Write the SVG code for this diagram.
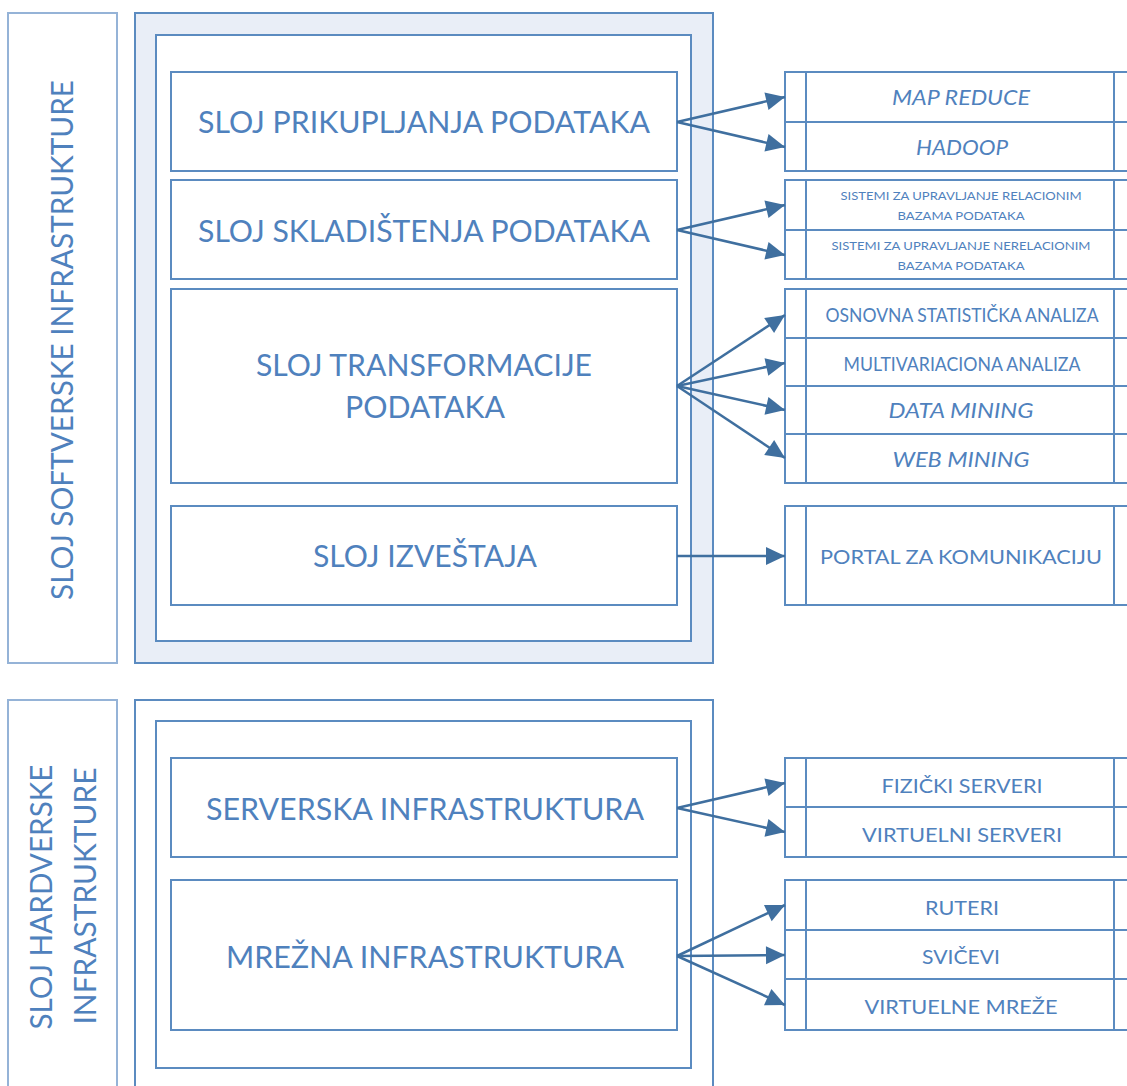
<svg xmlns="http://www.w3.org/2000/svg" width="1127" height="1086" viewBox="0 0 1127 1086">
  <style>
    .side { fill: #ffffff; stroke: #95B3D7; stroke-width: 2; }
    .frame { stroke: #5B8BC0; stroke-width: 2; }
    .box { fill: #ffffff; stroke: #5B8BC0; stroke-width: 2; }
    .cell { fill: #ffffff; stroke: #5B8BC0; stroke-width: 2; }
    .div { stroke: #5B8BC0; stroke-width: 2; }
    text { font-family: Lato, "Open Sans", "Liberation Sans", sans-serif; fill: #4F81BD; text-anchor: middle; }
    .big { font-size: 30px; }
    .med { font-size: 19px; }
    .it { font-style: italic; font-size: 21px; }
    .sm { font-size: 12px; }
    .conn line { stroke: #3F6F9F; stroke-width: 2.5; marker-end: url(#head); }
  </style>
  <defs>
    <marker id="head" markerUnits="userSpaceOnUse" markerWidth="22" markerHeight="20" refX="20" refY="10" orient="auto" overflow="visible">
      <path d="M1,1 L20,10 L1,19 Z" fill="#3F6F9F"/>
    </marker>
  </defs>

  <rect width="1127" height="1086" fill="#ffffff"/>

  <!-- software layer -->
  <g id="software-label">
    <rect class="side" x="8" y="13" width="109" height="650"/>
    <text class="big" transform="translate(73,340) rotate(-90)" textLength="520" lengthAdjust="spacingAndGlyphs">SLOJ SOFTVERSKE INFRASTRUKTURE</text>
  </g>
  <g id="software-frame">
    <rect class="frame" x="135" y="13" width="578" height="650" fill="#E9EEF7"/>
    <rect class="frame" x="156" y="35" width="535" height="606" fill="#ffffff"/>
  </g>

  <g id="prikupljanje">
    <rect class="box" x="171" y="72" width="506" height="99"/>
    <text class="big" x="424" y="133" textLength="452" lengthAdjust="spacingAndGlyphs">SLOJ PRIKUPLJANJA PODATAKA</text>
  </g>
  <g id="skladistenje">
    <rect class="box" x="171" y="180" width="506" height="99"/>
    <text class="big" x="424" y="242" textLength="452" lengthAdjust="spacingAndGlyphs">SLOJ SKLADIŠTENJA PODATAKA</text>
  </g>
  <g id="transformacija">
    <rect class="box" x="171" y="289" width="506" height="194"/>
    <text class="big" x="424" y="376" textLength="336" lengthAdjust="spacingAndGlyphs">SLOJ TRANSFORMACIJE</text>
    <text class="big" x="425" y="418" textLength="160" lengthAdjust="spacingAndGlyphs">PODATAKA</text>
  </g>
  <g id="izvestaji">
    <rect class="box" x="171" y="506" width="506" height="99"/>
    <text class="big" x="425" y="567" textLength="224" lengthAdjust="spacingAndGlyphs">SLOJ IZVEŠTAJA</text>
  </g>

  <!-- hardware layer -->
  <g id="hardware-label">
    <rect class="side" x="8" y="700" width="109" height="400"/>
    <text class="big" transform="translate(52,897) rotate(-90)" textLength="265" lengthAdjust="spacingAndGlyphs">SLOJ HARDVERSKE</text>
    <text class="big" transform="translate(96,896) rotate(-90)" textLength="257" lengthAdjust="spacingAndGlyphs">INFRASTRUKTURE</text>
  </g>
  <g id="hardware-frame">
    <rect class="frame" x="135" y="700" width="578" height="400" fill="#ffffff"/>
    <rect class="frame" x="156" y="721" width="535" height="347" fill="#ffffff"/>
  </g>

  <g id="serverska">
    <rect class="box" x="171" y="758" width="506" height="99"/>
    <text class="big" x="425" y="820" textLength="438" lengthAdjust="spacingAndGlyphs">SERVERSKA INFRASTRUKTURA</text>
  </g>
  <g id="mrezna">
    <rect class="box" x="171" y="880" width="506" height="150"/>
    <text class="big" x="425" y="968" textLength="398" lengthAdjust="spacingAndGlyphs">MREŽNA INFRASTRUKTURA</text>
  </g>

  <!-- right-hand detail lists -->
  <g id="obrada">
    <rect class="cell" x="785" y="72" width="360" height="99"/>
    <line class="div" x1="785" y1="122" x2="1127" y2="122"/>
    <line class="div" x1="806" y1="72" x2="806" y2="171"/>
    <line class="div" x1="1114" y1="72" x2="1114" y2="171"/>
    <text class="it" x="961" y="105" textLength="138" lengthAdjust="spacingAndGlyphs">MAP REDUCE</text>
    <text class="it" x="962" y="155" textLength="92" lengthAdjust="spacingAndGlyphs">HADOOP</text>
  </g>
  <g id="baze">
    <rect class="cell" x="785" y="180" width="360" height="99"/>
    <line class="div" x1="785" y1="230" x2="1127" y2="230"/>
    <line class="div" x1="806" y1="180" x2="806" y2="279"/>
    <line class="div" x1="1114" y1="180" x2="1114" y2="279"/>
    <text class="sm" x="961" y="200" textLength="241" lengthAdjust="spacingAndGlyphs">SISTEMI ZA UPRAVLJANJE RELACIONIM</text>
    <text class="sm" x="961" y="220" textLength="127" lengthAdjust="spacingAndGlyphs">BAZAMA PODATAKA</text>
    <text class="sm" x="961" y="250" textLength="259" lengthAdjust="spacingAndGlyphs">SISTEMI ZA UPRAVLJANJE NERELACIONIM</text>
    <text class="sm" x="961" y="270" textLength="127" lengthAdjust="spacingAndGlyphs">BAZAMA PODATAKA</text>
  </g>
  <g id="analize">
    <rect class="cell" x="785" y="289" width="360" height="194"/>
    <line class="div" x1="785" y1="338" x2="1127" y2="338"/>
    <line class="div" x1="785" y1="386" x2="1127" y2="386"/>
    <line class="div" x1="785" y1="434" x2="1127" y2="434"/>
    <line class="div" x1="806" y1="289" x2="806" y2="483"/>
    <line class="div" x1="1114" y1="289" x2="1114" y2="483"/>
    <text class="med" x="962" y="322" textLength="273" lengthAdjust="spacingAndGlyphs">OSNOVNA STATISTIČKA ANALIZA</text>
    <text class="med" x="962" y="371" textLength="237" lengthAdjust="spacingAndGlyphs">MULTIVARIACIONA ANALIZA</text>
    <text class="it" x="961" y="418" textLength="145" lengthAdjust="spacingAndGlyphs">DATA MINING</text>
    <text class="it" x="961" y="467" textLength="137" lengthAdjust="spacingAndGlyphs">WEB MINING</text>
  </g>
  <g id="portal">
    <rect class="cell" x="785" y="506" width="360" height="99"/>
    <line class="div" x1="806" y1="506" x2="806" y2="605"/>
    <line class="div" x1="1114" y1="506" x2="1114" y2="605"/>
    <text class="med" x="961" y="564" textLength="282" lengthAdjust="spacingAndGlyphs">PORTAL ZA KOMUNIKACIJU</text>
  </g>
  <g id="serveri">
    <rect class="cell" x="785" y="758" width="360" height="99"/>
    <line class="div" x1="785" y1="807" x2="1127" y2="807"/>
    <line class="div" x1="806" y1="758" x2="806" y2="857"/>
    <line class="div" x1="1114" y1="758" x2="1114" y2="857"/>
    <text class="med" x="962" y="793" textLength="161" lengthAdjust="spacingAndGlyphs">FIZIČKI SERVERI</text>
    <text class="med" x="962" y="842" textLength="200" lengthAdjust="spacingAndGlyphs">VIRTUELNI SERVERI</text>
  </g>
  <g id="mreza">
    <rect class="cell" x="785" y="880" width="360" height="150"/>
    <line class="div" x1="785" y1="930" x2="1127" y2="930"/>
    <line class="div" x1="785" y1="979" x2="1127" y2="979"/>
    <line class="div" x1="806" y1="880" x2="806" y2="1030"/>
    <line class="div" x1="1114" y1="880" x2="1114" y2="1030"/>
    <text class="med" x="962" y="915" textLength="74" lengthAdjust="spacingAndGlyphs">RUTERI</text>
    <text class="med" x="961" y="964" textLength="78" lengthAdjust="spacingAndGlyphs">SVIČEVI</text>
    <text class="med" x="961" y="1014" textLength="193" lengthAdjust="spacingAndGlyphs">VIRTUELNE MREŽE</text>
  </g>

  <!-- connectors -->
  <g id="connectors" class="conn">
    <line x1="677" y1="122" x2="785" y2="97"/>
    <line x1="677" y1="122" x2="785" y2="147"/>
    <line x1="677" y1="230" x2="785" y2="205"/>
    <line x1="677" y1="230" x2="785" y2="255"/>
    <line x1="677" y1="386" x2="785" y2="315"/>
    <line x1="677" y1="386" x2="785" y2="363"/>
    <line x1="677" y1="386" x2="785" y2="410"/>
    <line x1="677" y1="386" x2="785" y2="458"/>
    <line x1="677" y1="556" x2="785" y2="556"/>
    <line x1="677" y1="808" x2="785" y2="783"/>
    <line x1="677" y1="808" x2="785" y2="832"/>
    <line x1="677" y1="956" x2="785" y2="905"/>
    <line x1="677" y1="956" x2="785" y2="955"/>
    <line x1="677" y1="956" x2="785" y2="1005"/>
  </g>
</svg>
